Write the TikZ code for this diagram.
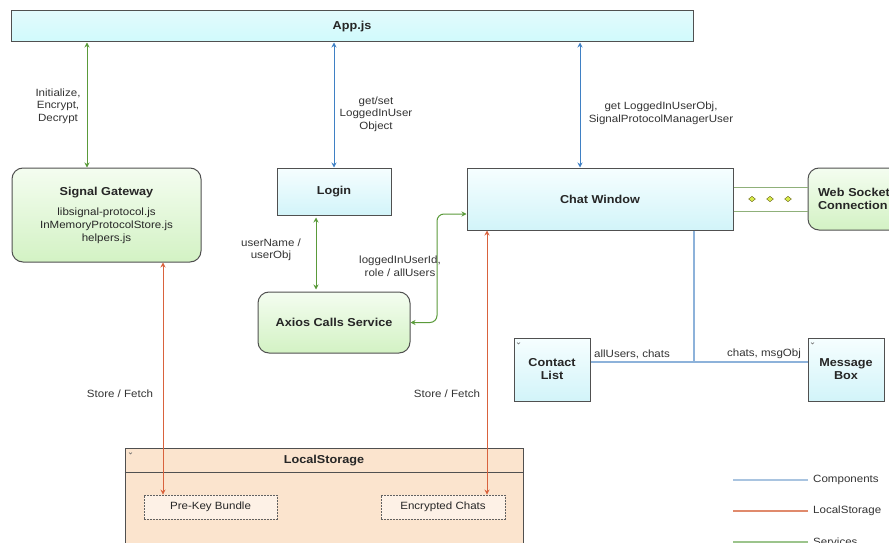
\documentclass[tikz,border=0pt]{standalone}
\usepackage{fontspec}
\setmainfont[FakeStretch=1.1]{Liberation Sans}
\usetikzlibrary{arrows.meta,shapes.geometric}

\definecolor{boxline}{HTML}{505050}
\definecolor{cyantop}{HTML}{F6FEFF}
\definecolor{cyanbot}{HTML}{D2F4F9}
\definecolor{appcyan}{HTML}{E2FAFC}
\definecolor{greentop}{HTML}{F4FDF0}
\definecolor{greenbot}{HTML}{D3F2C4}
\definecolor{peach}{HTML}{FBE4CE}
\definecolor{peachlight}{HTML}{FDF1E6}
\definecolor{svcgreen}{HTML}{5A9A3A}
\definecolor{cmpblue}{HTML}{3F80C4}
\definecolor{hubblue}{HTML}{8DB2DA}
\definecolor{lsred}{HTML}{D9623D}
\definecolor{wsgreen}{HTML}{8FB07A}
\definecolor{diafill}{HTML}{D8EC4A}
\definecolor{labelgray}{HTML}{333333}
\definecolor{legblue}{HTML}{A9C4E0}
\definecolor{legred}{HTML}{E08A6C}
\definecolor{leggreen}{HTML}{9CC48C}

\newcommand\ttlfnt{\fontsize{11.5}{13}\selectfont\bfseries}
\newcommand\lblfnt{\fontsize{10.5}{12.5}\selectfont\mdseries}

\tikzset{
  compbox/.style={draw=boxline, line width=1pt, top color=cyantop, bottom color=cyanbot,
    font=\ttlfnt, align=center, inner sep=0pt, text=black!85},
  servbox/.style={compbox, rounded corners=11pt, top color=greentop, bottom color=greenbot},
  dbox/.style={draw=boxline!90, dash pattern=on 1.6pt off 1.4pt, line width=0.9pt, fill=peachlight,
    font=\lblfnt, inner sep=0pt, text=black!85},
  lbl/.style={font=\lblfnt, align=center, inner sep=0pt, text=labelgray},
  svc/.style={draw=svcgreen, line width=1pt},
  cmp/.style={draw=cmpblue, line width=1pt},
  hub/.style={draw=hubblue, line width=1.1pt},
  lsline/.style={draw=lsred, line width=1pt},
  wsline/.style={draw=wsgreen, line width=1pt},
  dia/.style={diamond, draw=olive!70!black, line width=0.4pt, fill=diafill,
    minimum width=7pt, minimum height=5.5pt, inner sep=0pt},
  chev/.style={draw=black!60, line width=0.4pt},
  legline/.style={line width=1.1pt},
  >={Stealth[length=5pt,width=5pt]}
}

\begin{document}
\begin{tikzpicture}[x=1pt,y=-1pt]
\useasboundingbox (0,0) rectangle (889,543);
\clip (0,0) rectangle (889,543);

% main components and services
\node[compbox, minimum width=682pt, minimum height=31pt, top color=appcyan, bottom color=appcyan!92!cyan] (app) at (352,26.5) {App.js};
\node[servbox, minimum width=189pt, minimum height=94pt] (sg) at (106.5,215)
  {Signal Gateway\\[7pt]\lblfnt libsignal-protocol.js\\\lblfnt InMemoryProtocolStore.js\\\lblfnt helpers.js};
\node[compbox, minimum width=114pt, minimum height=47pt] (login) at (334,191.5) {Login};
\node[servbox, minimum width=152pt, minimum height=61pt] (axios) at (334,322.5) {Axios Calls Service};
\node[compbox, minimum width=266pt, minimum height=62pt] (chat) at (600,199) {Chat Window};
\node[servbox, minimum width=140pt, minimum height=62pt, text width=120pt, align=left, inner xsep=10pt] (ws) at (878,199) {Web Socket\\Connection};
\node[compbox, minimum width=76pt, minimum height=63pt] (cl) at (552,369.5) {Contact\\List};
\node[compbox, minimum width=76pt, minimum height=63pt] (mb) at (846,369.5) {Message\\Box};

% local storage container
\node[draw=boxline, line width=1pt, fill=peach, minimum width=398pt, minimum height=97pt, anchor=north, inner sep=0pt] (ls) at (324,448) {};
\node[font=\ttlfnt, inner sep=0pt, text=black!85] (lstitle) at (324,461) {LocalStorage};
\coordinate (lsh) at (0,472);
\draw[draw=boxline, line width=1pt] (ls.west |- lsh) -- (ls.east |- lsh);
\node[dbox, minimum width=133pt, minimum height=24pt] (pk) at (210.5,507) {Pre-Key Bundle};
\node[dbox, minimum width=124pt, minimum height=24pt] (ec) at (443,507) {Encrypted Chats};

% small collapse marks
\draw[chev] (517,342.5) -- (518.5,344) -- (520,342.5);
\draw[chev] (811,342.5) -- (812.5,344) -- (814,342.5);
\draw[chev] (129,452.5) -- (130.5,454) -- (132,452.5);

% connector columns
\coordinate (xa) at (87,0);
\coordinate (xb) at (580,0);
\coordinate (xlu) at (316,0);
\coordinate (xax) at (437,0);
\coordinate (cy) at (0,214);
\coordinate (xr1) at (163,0);
\coordinate (xr2) at (487,0);
\coordinate (xhub) at (694,362);
\coordinate (wy1) at (0,187);
\coordinate (wy2) at (0,211);

% connectors
\draw[svc,<->] (app.south -| xa) -- (sg.north -| xa);
\draw[cmp,<->] (app.south -| login) -- (login.north);
\draw[cmp,<->] (app.south -| xb) -- (chat.north -| xb);
\draw[svc,<->,shorten <=2pt,shorten >=2pt] (login.south -| xlu) -- (axios.north -| xlu);
\draw[svc,<->,rounded corners=7pt] (axios.east) -| (xax |- cy) -- (chat.west |- cy);
\draw[lsline,<->] (sg.south -| xr1) -- (pk.north -| xr1);
\draw[lsline,<->] (chat.south -| xr2) -- (ec.north -| xr2);
\draw[hub] (chat.south -| xhub) -- (xhub);
\draw[hub] (cl.east |- xhub) -- (mb.west |- xhub);
\draw[wsline] (chat.east |- wy1) -- (ws.west |- wy1);
\draw[wsline] (chat.east |- wy2) -- (ws.west |- wy2);
\node[dia] (d1) at (752,199) {};
\node[dia] (d2) at (770,199) {};
\node[dia] (d3) at (788,199) {};

% connector labels
\node[lbl] (l1) at (58,106) {Initialize,\\Encrypt,\\Decrypt};
\node[lbl] (l2) at (376,114) {get/set\\LoggedInUser\\Object};
\node[lbl] (l3) at (661,113.5) {get LoggedInUserObj,\\SignalProtocolManagerUser};
\node[lbl] (l4) at (271,250) {userName /\\userObj};
\node[lbl] (l5) at (400,266) {loggedInUserId,\\role / allUsers};
\node[lbl] (l6) at (632,354) {allUsers, chats};
\node[lbl] (l7) at (764,354) {chats, msgObj};
\node[lbl] (l8) at (120,394) {Store / Fetch};
\node[lbl] (l9) at (447,394) {Store / Fetch};

% legend
\node[lbl, anchor=west] (lg1) at (813,480) {Components};
\node[lbl, anchor=west] (lg2) at (813,511) {LocalStorage};
\node[lbl, anchor=west] (lg3) at (813,542) {Services};
\draw[legline, draw=legblue] (lg1.west) ++(-5,0) -- ++(-75,0);
\draw[legline, draw=legred] (lg2.west) ++(-5,0) -- ++(-75,0);
\draw[legline, draw=leggreen] (lg3.west) ++(-5,0) -- ++(-75,0);
\end{tikzpicture}
\end{document}
